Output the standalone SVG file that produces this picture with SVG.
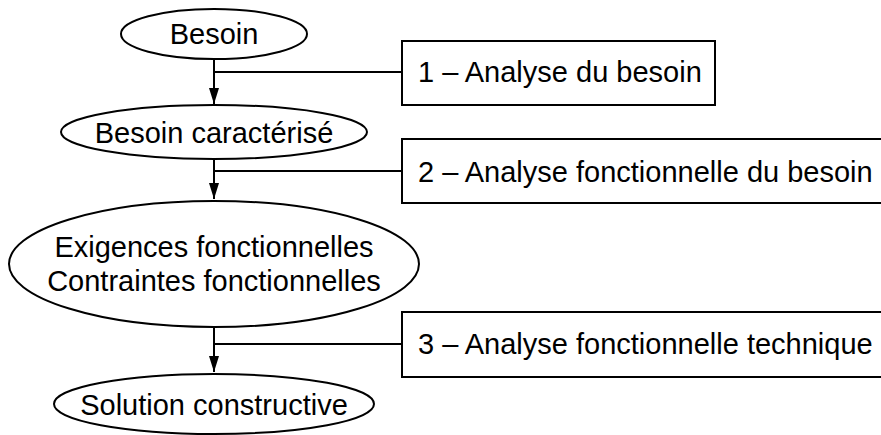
<svg xmlns="http://www.w3.org/2000/svg" width="881" height="435" viewBox="0 0 881 435">
<defs>
<style>
.shape{fill:#fff;stroke:#000;stroke-width:2}
.t{font-family:"Liberation Sans",Arial,sans-serif;font-size:29px;fill:#000}
.m{text-anchor:middle}
.c{stroke:#000;stroke-width:2;fill:none}
</style>
<marker id="ah" viewBox="0 0 16 10" refX="16" refY="5" markerWidth="16" markerHeight="10" markerUnits="userSpaceOnUse" orient="auto">
<path d="M0,0 L16,5 L0,10 Z" fill="#000"/>
</marker>
</defs>
<rect width="881" height="435" fill="#fff"/>
<g id="connectors">
<path class="c" d="M214,59 V104" marker-end="url(#ah)"/>
<path class="c" d="M214,72 H402"/>
<path class="c" d="M214,159 V199" marker-end="url(#ah)"/>
<path class="c" d="M214,171 H402"/>
<path class="c" d="M214,327 V372" marker-end="url(#ah)"/>
<path class="c" d="M214,344 H402"/>
</g>
<g id="n1"><ellipse class="shape" cx="214" cy="34" rx="93" ry="25"/><text class="t m" x="214" y="44">Besoin</text></g>
<g id="n2"><ellipse class="shape" cx="214" cy="132" rx="153" ry="27"/><text class="t m" x="214" y="143">Besoin caractérisé</text></g>
<g id="n3"><ellipse class="shape" cx="214" cy="264" rx="205" ry="63"/><text class="t m" x="214" y="257">Exigences fonctionnelles</text><text class="t m" x="214" y="291">Contraintes fonctionnelles</text></g>
<g id="n4"><ellipse class="shape" cx="214" cy="404" rx="160" ry="30"/><text class="t m" x="214" y="415">Solution constructive</text></g>
<g id="b1"><rect class="shape" x="402" y="41" width="313" height="64"/><text class="t" x="418" y="82">1 – Analyse du besoin</text></g>
<g id="b2"><rect class="shape" x="402" y="139" width="500" height="64"/><text class="t" x="418" y="182">2 – Analyse fonctionnelle du besoin</text></g>
<g id="b3"><rect class="shape" x="402" y="312" width="500" height="65"/><text class="t" x="418" y="354">3 – Analyse fonctionnelle technique</text></g>
</svg>
